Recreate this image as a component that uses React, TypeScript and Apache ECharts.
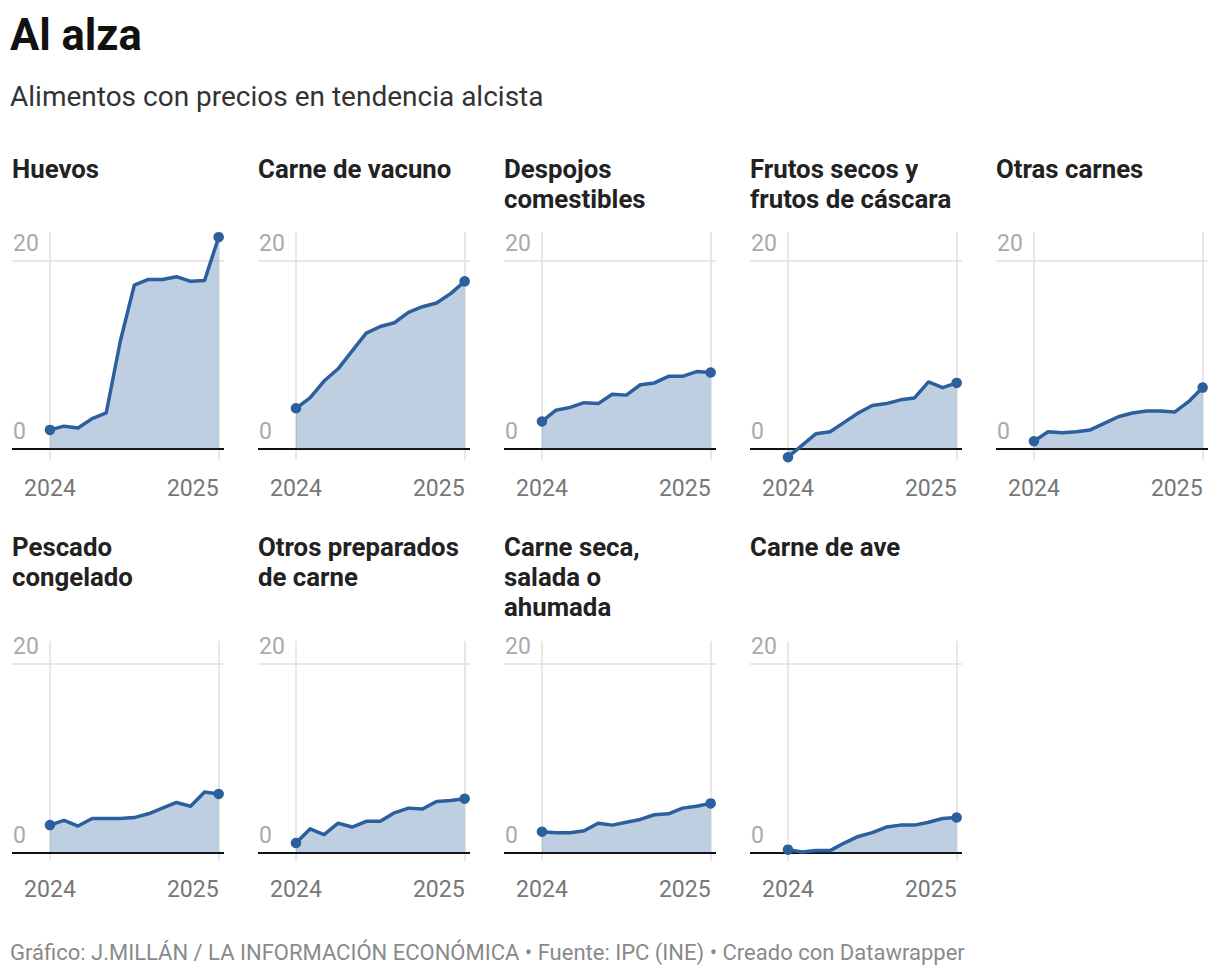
import React, { useEffect, useRef } from "react";
import * as echarts from "echarts";

// Month index, 0 = January 2024 ... 12 = January 2025
const MONTHS = [0, 1, 2, 3, 4, 5, 6, 7, 8, 9, 10, 11, 12];
const X_TICKS = [0, 12];
const X_TICK_LABELS = ["2024", "2025"];
const Y_TICKS = [0, 20];
const Y_TICK_LABELS = ["0", "20"];

const PANEL_TITLES = [
  "Huevos",
  "Carne de vacuno",
  "Despojos\ncomestibles",
  "Frutos secos y\nfrutos de cáscara",
  "Otras carnes",
  "Pescado\ncongelado",
  "Otros preparados\nde carne",
  "Carne seca,\nsalada o\nahumada",
  "Carne de ave",
];

// Year-on-year price change (%)
const huevos = [2.0, 2.4, 2.2, 3.2, 3.8, 11.4, 17.4, 18.0, 18.0, 18.3, 17.8, 17.9, 22.5];
const carneVacuno = [4.3, 5.4, 7.2, 8.5, 10.4, 12.3, 13.0, 13.4, 14.5, 15.1, 15.5, 16.5, 17.8];
const despojos = [2.9, 4.1, 4.4, 4.9, 4.8, 5.8, 5.7, 6.8, 7.0, 7.7, 7.7, 8.2, 8.1];
const frutosSecos = [-0.9, 0.35, 1.6, 1.8, 2.8, 3.8, 4.6, 4.8, 5.2, 5.4, 7.1, 6.5, 7.0];
const otrasCarnes = [0.8, 1.8, 1.7, 1.8, 2.0, 2.7, 3.4, 3.8, 4.0, 4.0, 3.9, 5.0, 6.5];
const pescadoCongelado = [2.9, 3.4, 2.8, 3.6, 3.6, 3.6, 3.7, 4.1, 4.7, 5.3, 4.9, 6.4, 6.2];
const otrosPreparados = [1.0, 2.5, 1.9, 3.1, 2.7, 3.3, 3.3, 4.2, 4.7, 4.6, 5.4, 5.5, 5.7];
const carneSeca = [2.2, 2.1, 2.1, 2.3, 3.1, 2.9, 3.2, 3.5, 4.0, 4.1, 4.7, 4.9, 5.2];
const carneAve = [0.3, 0.05, 0.2, 0.2, 1.0, 1.7, 2.1, 2.7, 2.9, 2.9, 3.2, 3.6, 3.7];

const SERIES = [
  huevos,
  carneVacuno,
  despojos,
  frutosSecos,
  otrasCarnes,
  pescadoCongelado,
  otrosPreparados,
  carneSeca,
  carneAve,
];

const TITLE = "Al alza";
const SUBTITLE = "Alimentos con precios en tendencia alcista";
const FOOTER =
  "Gráfico: J.MILLÁN / LA INFORMACIÓN ECONÓMICA • Fuente: IPC (INE) • Creado con Datawrapper";

const FONT = "Roboto, 'Noto Sans', sans-serif";
const BLUE = "#2b5f9e";
const GRID_LINE = "#e0e0e0";

// Layout of the small multiples
const COL_LEFT = [12, 258, 504, 750, 996];
const PANEL_W = 212;
const ROWS = [
  { titleTop: 154, top: 232, height: 228, yMin: -1.2, yMax: 23.05 },
  { titleTop: 532, top: 641, height: 220, yMin: -0.9, yMax: 22.4 },
];
const X_MIN = -2.7;
const X_MAX = 12.38;

function buildOption() {
  const titles: any[] = [
    {
      text: TITLE,
      left: 10,
      top: 13,
      padding: 0,
      textStyle: { fontFamily: FONT, fontSize: 43.5, fontWeight: "bold", color: "#111" },
    },
    {
      text: SUBTITLE,
      left: 10,
      top: 82,
      padding: 0,
      textStyle: { fontFamily: FONT, fontSize: 28, fontWeight: "normal", color: "#333" },
    },
    {
      text: FOOTER,
      left: 10,
      top: 941,
      padding: 0,
      textStyle: { fontFamily: FONT, fontSize: 22, fontWeight: "normal", color: "#8a8a8a" },
    },
  ];

  const grids: any[] = [];
  const xAxes: any[] = [];
  const yAxes: any[] = [];
  const series: any[] = [];

  SERIES.forEach((values, i) => {
    const row = ROWS[i < 5 ? 0 : 1];
    const left = COL_LEFT[i % 5];

    titles.push({
      text: PANEL_TITLES[i],
      left,
      top: row.titleTop,
      padding: 0,
      textStyle: {
        fontFamily: FONT,
        fontSize: 25.8,
        fontWeight: "bold",
        color: "#222",
        lineHeight: 30,
      },
    });

    grids.push({ left, top: row.top, width: PANEL_W, height: row.height });

    xAxes.push({
      type: "value",
      gridIndex: i,
      min: X_MIN,
      max: X_MAX,
      axisLine: { show: false },
      axisTick: { show: false },
      splitLine: { show: false },
      axisLabel: {
        customValues: X_TICKS,
        formatter: (v: number) => X_TICK_LABELS[X_TICKS.indexOf(v)] ?? "",
        margin: 17,
        fontFamily: FONT,
        fontSize: 23,
        color: "#777",
        alignMaxLabel: "right",
      },
    });

    yAxes.push({
      type: "value",
      gridIndex: i,
      min: row.yMin,
      max: row.yMax,
      axisLine: { show: false },
      axisTick: { show: false },
      axisLabel: { show: false },
      splitLine: { show: false },
    });

    const gridLineData = [
      ...X_TICKS.map((v) => ({
        xAxis: v,
        lineStyle: { color: GRID_LINE, width: 1.5, type: "solid" },
        label: { show: false },
      })),
      ...Y_TICKS.map((v, k) => ({
        yAxis: v,
        lineStyle: v === 0
          ? { color: "#111", width: 2, type: "solid" }
          : { color: GRID_LINE, width: 1.5, type: "solid" },
        label: {
          show: true,
          position: "insideStartTop",
          formatter: Y_TICK_LABELS[k],
          distance: [1, 6],
          fontFamily: FONT,
          fontSize: 23,
          color: "#aaa",
        },
      })),
    ];

    // Gridlines and reference lines, kept under the data series
    series.push({
      type: "line",
      xAxisIndex: i,
      yAxisIndex: i,
      data: [],
      z: 1,
      silent: true,
      markLine: {
        z: 1,
        silent: true,
        symbol: ["none", "none"],
        animation: false,
        data: gridLineData,
      },
    });

    const last = values.length - 1;
    series.push({
      type: "line",
      xAxisIndex: i,
      yAxisIndex: i,
      z: 3,
      data: MONTHS.map((m, k) => [m, values[k]]),
      showSymbol: true,
      symbol: "circle",
      symbolSize: (_v: any, p: any) => (p.dataIndex === 0 || p.dataIndex === last ? 10.5 : 0),
      itemStyle: { color: BLUE, borderWidth: 0 },
      lineStyle: { color: BLUE, width: 3.5, join: "round" },
      areaStyle: { color: "rgba(43,95,158,0.3)", opacity: 1, origin: 0 },
      silent: true,
    });
  });

  return {
    animation: false,
    backgroundColor: "#ffffff",
    title: titles,
    grid: grids,
    xAxis: xAxes,
    yAxis: yAxes,
    series,
  };
}

export default function App() {
  const ref = useRef<HTMLDivElement>(null);

  useEffect(() => {
    if (!ref.current) return;
    const chart = echarts.init(ref.current, undefined, { renderer: "svg" });
    chart.setOption(buildOption());
    return () => chart.dispose();
  }, []);

  return (
    <div
      ref={ref}
      style={{ position: "absolute", left: 0, top: 0, width: 1220, height: 978, background: "#fff" }}
    />
  );
}
